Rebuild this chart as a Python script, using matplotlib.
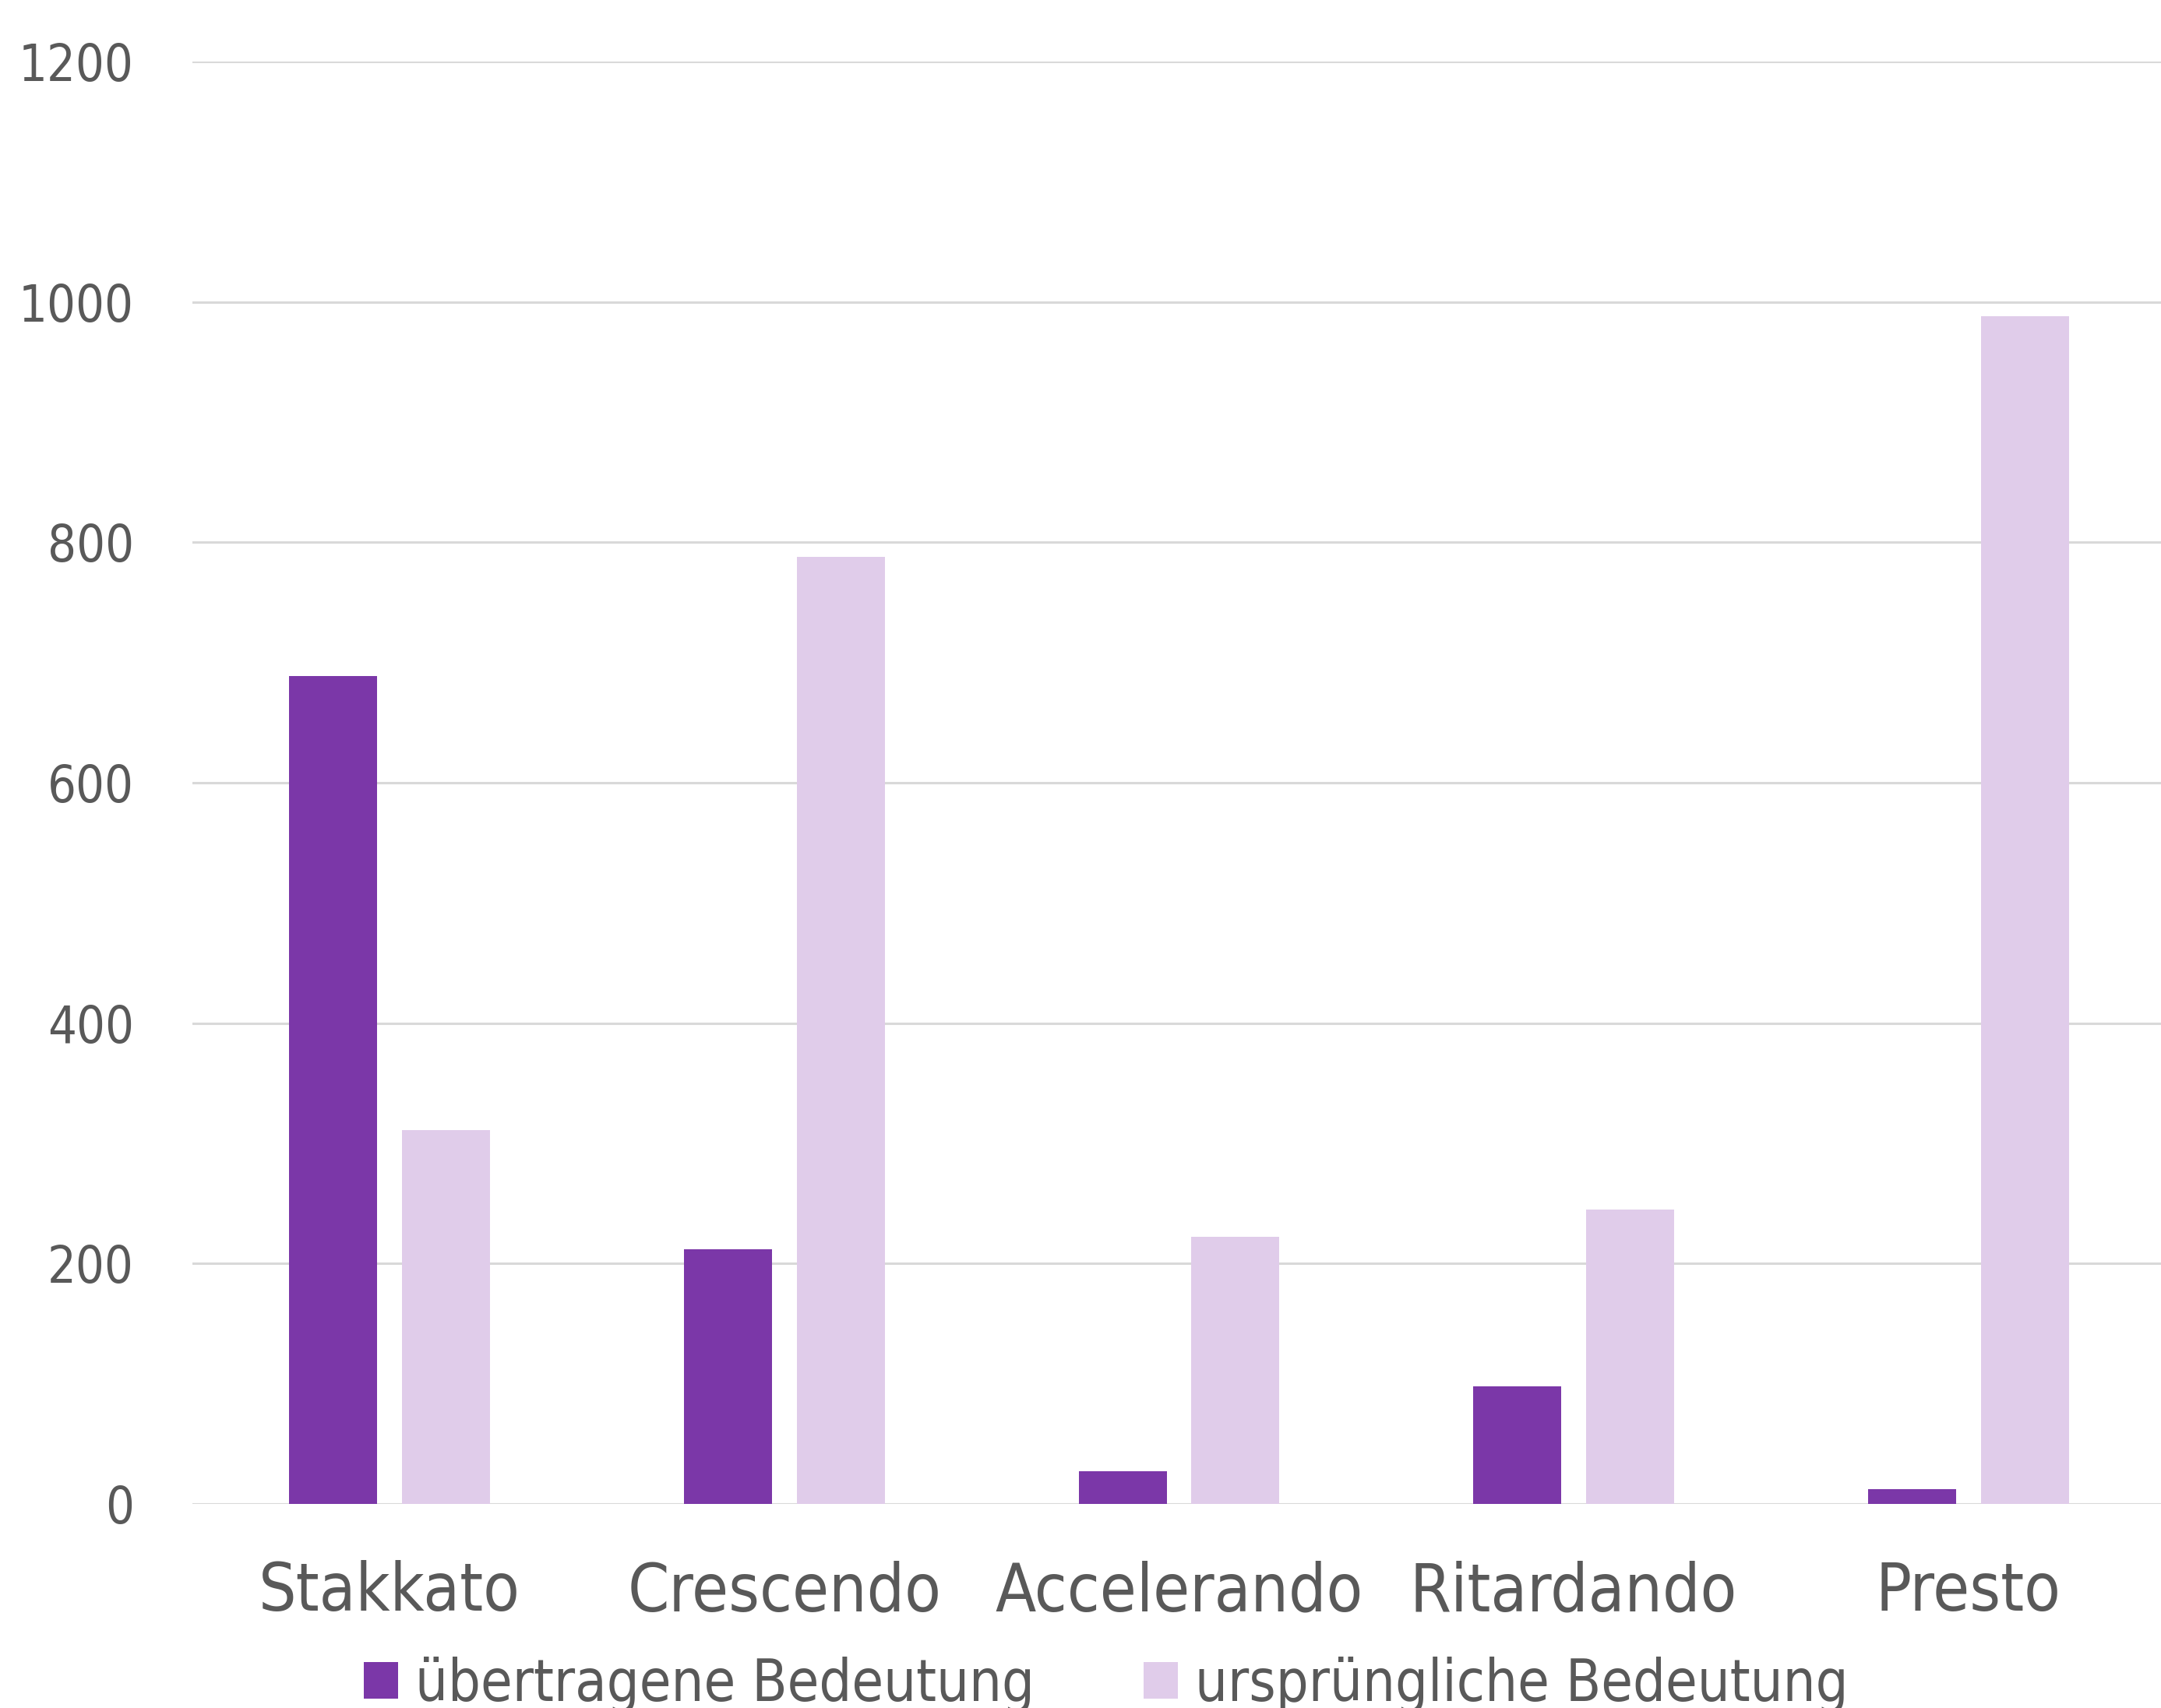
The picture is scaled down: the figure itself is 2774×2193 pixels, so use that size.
import matplotlib
matplotlib.use("Agg")
import matplotlib.pyplot as plt
from matplotlib import font_manager
import numpy as np

# Daten
kategorien = ["Stakkato", "Crescendo", "Accelerando", "Ritardando", "Presto"]
uebertragen = [689, 212, 27, 98, 12]
urspruenglich = [311, 788, 222, 245, 988]
serien_namen = ["übertragene Bedeutung", "ursprüngliche Bedeutung"]
y_ticks = [0, 200, 400, 600, 800, 1000, 1200]

# Schrift: schmale DejaVu-Variante, falls vorhanden
schmal = any(f.name == "DejaVu Sans" and f.stretch == "condensed"
             for f in font_manager.fontManager.ttflist)
plt.rcParams["font.family"] = ["DejaVu Sans"]
if schmal:
    plt.rcParams["font.stretch"] = "condensed"
    faktor = 0.93
else:
    faktor = 0.83

textfarbe = "#595959"
dunkel = "#7B37A8"
hell = "#E0CCEA"

fig = plt.figure(figsize=(27.74, 21.93), dpi=100)
ax = fig.add_axes([247 / 2774, 1 - 1931 / 2193, (2780 - 247) / 2774, (1931 - 79) / 2193])

x = np.arange(len(kategorien))
breite = 0.223
versatz = 0.143
ax.bar(x - versatz, uebertragen, breite, color=dunkel, label=serien_namen[0], zorder=3)
ax.bar(x + versatz, urspruenglich, breite, color=hell, label=serien_namen[1], zorder=3)

ax.set_xlim(-0.5, 4.5)
ax.set_ylim(0, 1200)
ax.set_yticks(y_ticks)
ax.set_xticks(x)
ax.set_xticklabels(kategorien)

ax.grid(axis="y", color="#D9D9D9", linewidth=2.2, zorder=0)
for s in ax.spines.values():
    s.set_visible(False)
ax.tick_params(axis="both", length=0, colors=textfarbe)
ax.tick_params(axis="y", labelsize=55 * faktor * 0.91, pad=54)
ax.tick_params(axis="x", labelsize=70 * faktor * 0.94, pad=52)

fig.legend(loc="center", bbox_to_anchor=(1420 / 2774, 1 - 2163 / 2193), ncol=2,
           frameon=False, fontsize=60 * faktor * 0.95, labelcolor=textfarbe,
           handlelength=0.6, handleheight=0.6, handletextpad=0.3, columnspacing=1.9)

fig.savefig("out.png", dpi=100)
